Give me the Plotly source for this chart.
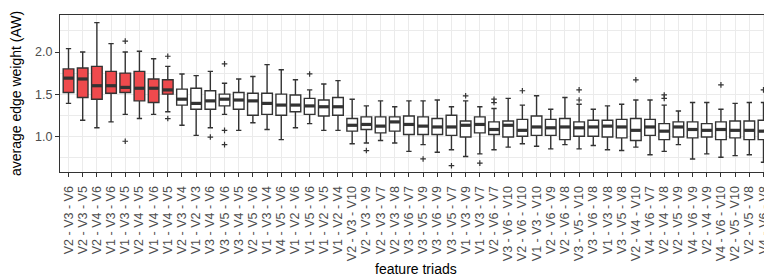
import plotly.graph_objects as go

labels = ["V2 - V3 - V6", "V2 - V3 - V5", "V2 - V4 - V6", "V1 - V3 - V6", "V1 - V3 - V5",
          "V2 - V4 - V5", "V1 - V4 - V6", "V1 - V4 - V5", "V2 - V3 - V4", "V1 - V2 - V3",
          "V3 - V4 - V6", "V3 - V5 - V6", "V3 - V4 - V5", "V2 - V5 - V6", "V1 - V3 - V4",
          "V4 - V5 - V6", "V1 - V2 - V6", "V1 - V5 - V6", "V1 - V2 - V5", "V1 - V2 - V4",
          "V2 - V3 - V10", "V2 - V3 - V9", "V2 - V3 - V7", "V2 - V3 - V8", "V3 - V6 - V7",
          "V3 - V5 - V9", "V3 - V6 - V9", "V3 - V5 - V7", "V1 - V3 - V9", "V1 - V3 - V7",
          "V2 - V6 - V7", "V3 - V6 - V10", "V2 - V6 - V10", "V1 - V3 - V10", "V2 - V6 - V9",
          "V2 - V6 - V8", "V3 - V5 - V10", "V3 - V6 - V8", "V1 - V3 - V8", "V3 - V5 - V8",
          "V2 - V4 - V10", "V4 - V6 - V7", "V2 - V4 - V8", "V2 - V5 - V9", "V4 - V6 - V9",
          "V2 - V4 - V9", "V4 - V6 - V10", "V2 - V5 - V10", "V2 - V5 - V8", "V4 - V6 - V8"]

lower = [1.39, 1.19, 1.10, 1.17, 1.26, 1.21, 1.26, 1.29, 1.13, 1.01,
         1.10, 1.26, 1.07, 1.16, 1.08, 0.96, 1.10, 1.15, 1.07, 1.07,
         0.91, 0.92, 0.95, 0.92, 0.82, 0.90, 0.81, 0.84, 0.76, 0.79,
         0.84, 0.87, 0.91, 0.88, 0.85, 0.90, 0.85, 0.89, 0.84, 0.83,
         0.87, 0.78, 0.82, 0.90, 0.73, 0.79, 0.75, 0.77, 0.78, 0.69]
q1 = [1.52, 1.46, 1.44, 1.51, 1.52, 1.42, 1.40, 1.50, 1.37, 1.32,
      1.32, 1.36, 1.32, 1.25, 1.26, 1.25, 1.29, 1.26, 1.24, 1.25,
      1.06, 1.08, 1.04, 1.06, 1.02, 1.02, 1.02, 1.01, 0.99, 1.04,
      1.02, 0.99, 1.00, 1.01, 1.01, 0.96, 1.00, 1.00, 0.99, 0.98,
      0.95, 1.01, 0.96, 0.99, 0.98, 0.99, 0.96, 0.98, 0.96, 0.96]
median = [1.69, 1.68, 1.60, 1.60, 1.58, 1.57, 1.57, 1.55, 1.44, 1.39,
          1.42, 1.44, 1.43, 1.42, 1.39, 1.37, 1.37, 1.36, 1.35, 1.35,
          1.13, 1.14, 1.12, 1.17, 1.14, 1.12, 1.11, 1.11, 1.13, 1.14,
          1.08, 1.13, 1.07, 1.11, 1.10, 1.11, 1.10, 1.11, 1.12, 1.11,
          1.07, 1.11, 1.06, 1.11, 1.08, 1.07, 1.08, 1.07, 1.07, 1.06]
q3 = [1.80, 1.81, 1.83, 1.77, 1.75, 1.77, 1.68, 1.67, 1.56, 1.57,
      1.54, 1.50, 1.52, 1.51, 1.51, 1.50, 1.49, 1.45, 1.43, 1.46,
      1.21, 1.23, 1.23, 1.23, 1.24, 1.23, 1.21, 1.25, 1.18, 1.23,
      1.17, 1.18, 1.20, 1.24, 1.20, 1.21, 1.17, 1.19, 1.19, 1.20,
      1.21, 1.20, 1.15, 1.17, 1.17, 1.15, 1.17, 1.18, 1.18, 1.19]
upper = [2.04, 2.00, 2.35, 2.10, 2.00, 2.01, 1.92, 1.83, 1.74, 1.72,
         1.77, 1.63, 1.68, 1.71, 1.85, 1.79, 1.67, 1.55, 1.62, 1.66,
         1.44, 1.36, 1.42, 1.35, 1.42, 1.42, 1.43, 1.35, 1.42, 1.35,
         1.33, 1.45, 1.37, 1.48, 1.32, 1.46, 1.38, 1.32, 1.36, 1.38,
         1.43, 1.43, 1.37, 1.30, 1.40, 1.40, 1.32, 1.39, 1.40, 1.40]

# outliers: triad index (0-based) and value
outlier_idx = [4, 4, 7, 7, 10, 11, 11, 11, 17, 21, 25, 27, 28, 29,
               30, 30, 32, 36, 36, 40, 42, 42, 46, 49]
outlier_val = [2.13, 0.94, 1.95, 1.21, 0.99, 1.86, 1.07, 0.90, 1.74, 0.83, 0.73, 0.65, 1.48, 0.68,
               1.44, 1.40, 1.54, 1.55, 1.43, 1.67, 1.49, 1.45, 1.61, 1.55]

n_red = 8
red = "#EF4A4D"
dark = "#333333"

fig = go.Figure()
groups = [(slice(0, n_red), red), (slice(n_red, len(labels)), "white")]
for sl, col in groups:
    fig.add_trace(go.Box(
        x=labels[sl], q1=q1[sl], median=median[sl], q3=q3[sl],
        lowerfence=lower[sl], upperfence=upper[sl],
        boxpoints=False, fillcolor=col, width=0.75,
        line=dict(color=dark, width=1.4), showlegend=False, hoverinfo="skip"))

# thick median bars
fig.add_trace(go.Scatter(
    x=labels, y=median, mode="markers",
    marker=dict(symbol="line-ew", size=7.4, line=dict(color=dark, width=3.2)),
    showlegend=False, hoverinfo="skip"))

# outliers
fig.add_trace(go.Scatter(
    x=[labels[i] for i in outlier_idx], y=outlier_val, mode="markers",
    marker=dict(symbol="cross-thin", size=4, line=dict(color=dark, width=1.2)),
    showlegend=False, hoverinfo="skip"))

fig.update_layout(
    width=772, height=278,
    margin=dict(l=52, r=8, t=7, b=114),
    paper_bgcolor="white", plot_bgcolor="white",
    font=dict(family="Liberation Sans, Arial, sans-serif", color="#000000"),
    boxmode="overlay",
    annotations=[dict(text="feature triads", xref="paper", yref="paper",
                      x=0.5, y=-0.62, xanchor="center", yanchor="middle",
                      showarrow=False, font=dict(size=14, color="#000000"))],
)
fig.update_xaxes(
    type="category", categoryorder="array", categoryarray=labels,
    tickmode="array", tickvals=labels, ticktext=labels,
    range=[-0.6, len(labels) - 0.4],
    showgrid=True, gridcolor="#EBEBEB", gridwidth=1,
    showline=True, linecolor=dark, linewidth=1.3, mirror=True,
    ticks="outside", ticklen=4, tickcolor=dark, tickwidth=1,
    tickangle=-90, tickfont=dict(size=12.5, color="#4D4D4D"),
    ticklabelstandoff=4,
    zeroline=False, automargin=False,
)
fig.update_yaxes(
    range=[0.575, 2.44],
    tickvals=[1.0, 1.5, 2.0], ticktext=["1.0", "1.5", "2.0"],
    showgrid=True, gridcolor="#EBEBEB", gridwidth=1,
    minor=dict(tickvals=[0.75, 1.25, 1.75, 2.25], showgrid=True, gridcolor="#EBEBEB", gridwidth=1),
    showline=True, linecolor=dark, linewidth=1.3, mirror=True,
    ticks="outside", ticklen=4, tickcolor=dark, tickwidth=1,
    tickfont=dict(size=12.5, color="#4D4D4D"),
    title=dict(text="average edge weight (AW)", font=dict(size=14, color="#000000"), standoff=12),
    zeroline=False, automargin=False,
)

fig.write_html("out.html")
